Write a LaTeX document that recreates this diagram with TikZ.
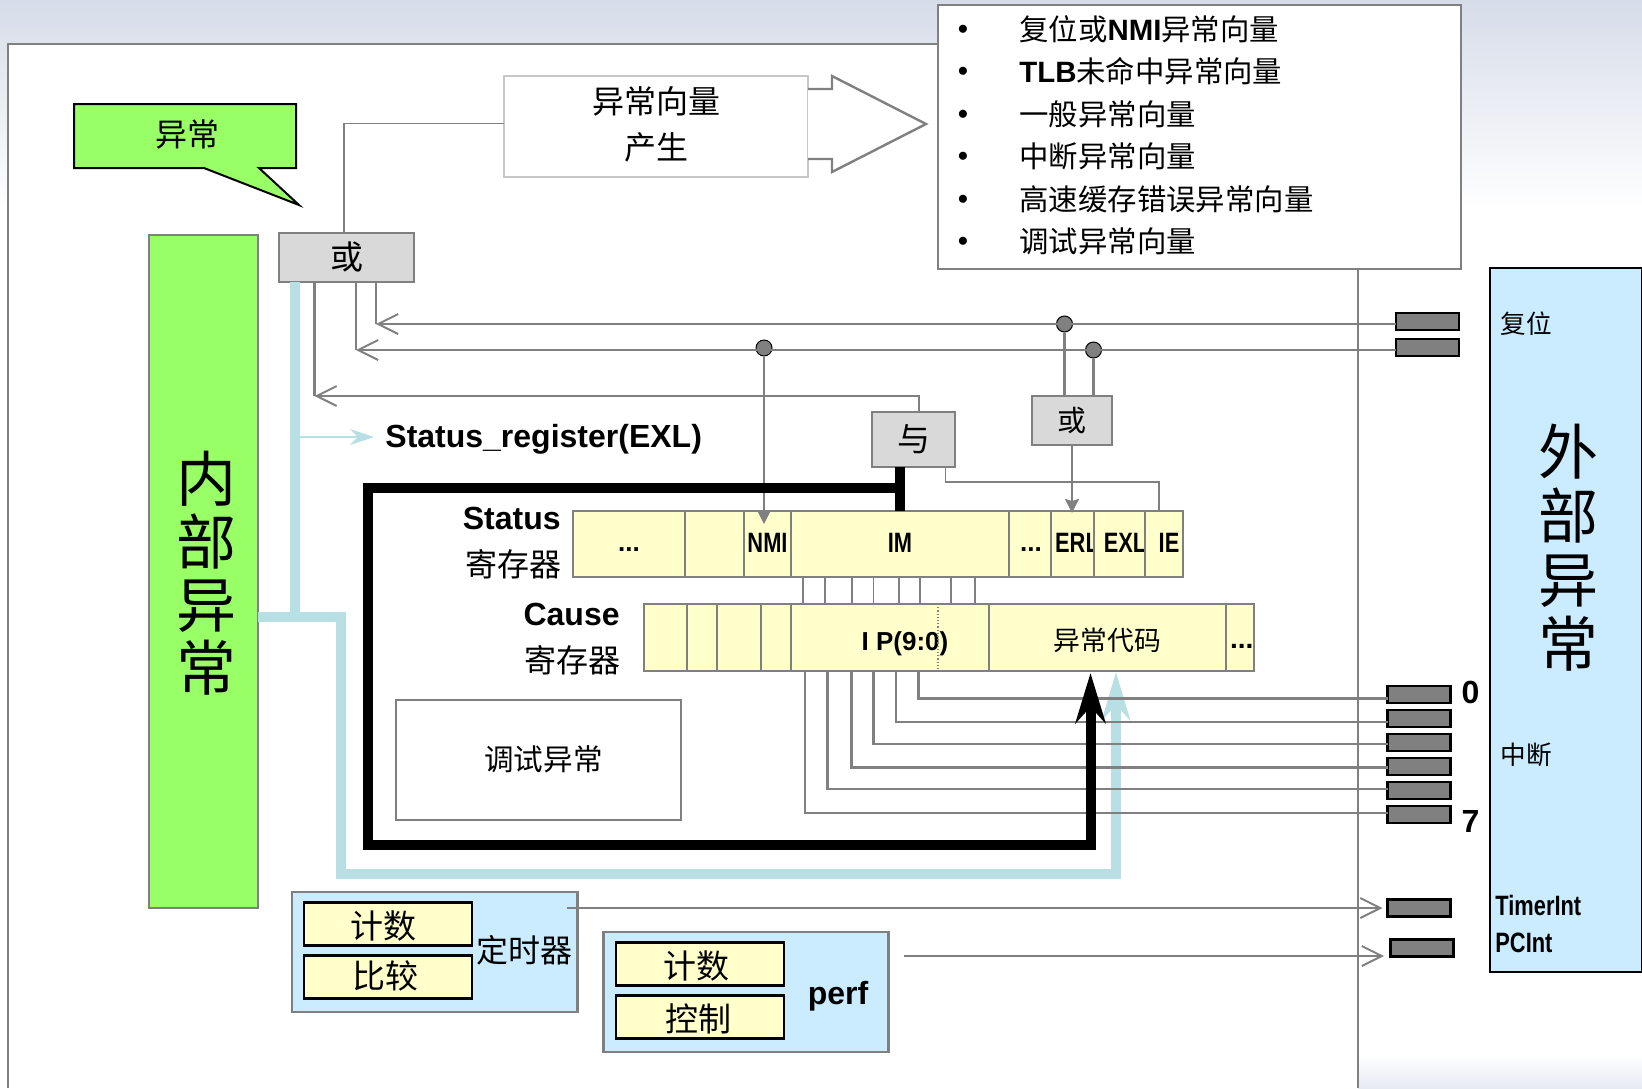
\documentclass[tikz,border=0pt]{standalone}
\usepackage{fontspec}
\setmainfont{Liberation Sans}
\newfontfamily\cjk{Noto Sans CJK SC}
\newfontfamily\narrowsf[FakeStretch=0.78]{Liberation Sans}
\usetikzlibrary{positioning,arrows.meta}
\definecolor{bgblue}{HTML}{D6DCE9}
\definecolor{wiregray}{HTML}{808080}
\definecolor{boxgray}{HTML}{D9D9D9}
\definecolor{lightgreen}{HTML}{99FF66}
\definecolor{regyellow}{HTML}{FFFFCC}
\definecolor{skyblue}{HTML}{CBEBFF}
\definecolor{paleteal}{HTML}{B8E0E4}
\newcommand{\cjksize}[1]{\cjk\fontsize{#1}{#1}\selectfont}
\newcommand{\boldsize}[1]{\bfseries\fontsize{#1}{#1}\selectfont}
\newcommand{\placed}[3]{\makebox[0pt]{\hspace*{#1}\raisebox{\dimexpr#2-.36em\relax}[0pt][0pt]{#3}}}
\newcommand{\regdots}[1]{\placed{#1}{1.5pt}{\rmfamily\boldsize{13}...}}
\tikzset{
  wire/.style={draw=wiregray,line width=1.2pt},
  thinwire/.style={draw=wiregray,line width=.6pt},
  openhead/.style={-{Straight Barb[length=10pt,width=10pt,line width=1pt]}},
  solidhead/.style={-{Stealth[length=7pt,width=7pt,inset=1pt]}},
  gate/.style={draw=wiregray,fill=boxgray,line width=1.2pt,inner sep=0pt,outer sep=0pt,font=\cjksize{16.5}},
  field/.style={draw=wiregray,fill=regyellow,line width=1pt,inner sep=0pt,outer sep=0pt,font=\narrowsf\boldsize{14}},
  socket/.style={draw=black,fill=wiregray,line width=1.1pt,inner sep=0pt,outer sep=0pt,minimum width=31.5pt,minimum height=8.5pt},
  joint/.style={circle,draw=black,fill=wiregray,line width=.5pt,inner sep=0pt,minimum size=8pt},
  cn/.style={inner sep=0pt,font=\cjksize{16}},
  smallcn/.style={inner sep=0pt,font=\cjksize{12.8}},
  latin/.style={inner sep=0pt,font=\boldsize{16}},
  narrowlatin/.style={inner sep=0pt,font=\narrowsf\boldsize{14}},
  panelbox/.style={draw=wiregray,fill=skyblue,line width=1.1pt,inner sep=0pt,outer sep=0pt},
  cellbox/.style={draw=black,fill=regyellow,line width=1.1pt,inner sep=0pt,outer sep=0pt,minimum width=84pt,minimum height=21.5pt,font=\cjksize{16.5}},
  blackbus/.style={draw=black,line width=5pt},
  tealbus/.style={draw=paleteal,line width=4.8pt}
}
\begin{document}
\begin{tikzpicture}[x=.5pt,y=-.5pt,node distance=0pt]
\useasboundingbox (0,0) rectangle (1642,1088);
\shade[top color=bgblue,bottom color=white] (0,0) rectangle (1642,210);
\shade[top color=white,bottom color=bgblue!60] (1358,1055) rectangle (1642,1088);
\draw[wire,line width=1.4pt,fill=white] (8,1088) -- (8,44) -- (1358,44) -- (1358,1088);

\coordinate (rstEnd) at (376,324);
\coordinate (nmiEnd) at (356,350);
\coordinate (andEnd) at (314.5,396);
\coordinate (trunkTop) at (294.5,282);
\coordinate (trunkFoot) at (294.5,617);
\coordinate (trunkTap) at (294.5,437);
\coordinate (tealA) at (341,617);
\coordinate (tealB) at (341,874);
\coordinate (tealC) at (1116,874);
\coordinate (tealTip) at (1116,672);
\coordinate (blackA) at (368,488);
\coordinate (blackB) at (368,845);
\coordinate (blackC) at (1090.5,845);
\coordinate (blackTip) at (1090.5,673);
\coordinate (timerOut) at (567,908);
\coordinate (perfOut) at (904,956);
\coordinate (perfIn) at (1384,956);

\node (inner) [panelbox,draw=wiregray,fill=lightgreen,minimum width=54.5pt,minimum height=336.5pt] at (203.5,571.5) {};
\node (innertxt) [inner sep=0pt,align=center,font=\cjk\fontsize{30}{31.5}\selectfont] at (206,573.5) {内\\部\\异\\常};
\draw[draw=black,fill=lightgreen,line width=1pt] (74,104) -- (296,104) -- (296,168) -- (259,168) -- (299,205) -- (204,168) -- (74,168) -- cycle;
\node (excn) [cn] at (187,134) {异常};

\node (gen) [draw=boxgray!80!gray,fill=white,line width=1pt,inner sep=0pt,outer sep=0pt,minimum width=152pt,minimum height=50.5pt] at (656,126.5) {};
\node (gentxt) [inner sep=0pt,align=center,font=\cjk\fontsize{16}{23}\selectfont] at (656,124.5) {异常向量\\产生};
\draw[wire,fill=white] (gen.east |- 0,89) -- (832,89) -- (832,76) -- (926,124) -- (832,172) -- (832,159) -- (gen.east |- 0,159);

\node (veclist) [draw=wiregray,fill=white,line width=1.2pt,inner sep=0pt,outer sep=0pt,minimum width=261.5pt,minimum height=132pt] at (1199.5,137) {};
\foreach \i/\y/\txt in {1/29/{复位或{\rmfamily\bfseries NMI}异常向量},2/71/{{\rmfamily\bfseries TLB}未命中异常向量},3/114/{一般异常向量},4/156/{中断异常向量},5/199/{高速缓存错误异常向量},6/241/{调试异常向量}}{
  \node (bul\i) [inner sep=0pt,yshift=-1.2pt,font=\boldsize{14}] at (963,\y) {•};
  \node (item\i) [anchor=west,inner sep=0pt,font=\cjksize{14.7}] at (1019,\y) {\txt};
}

\node (huo) [gate,minimum width=67.5pt,minimum height=24.5pt] at (346.75,257.5) {或};
\node (yu) [gate,minimum width=41.5pt,minimum height=27.5pt] at (913.5,439.5) {与};
\node (huoB) [gate,font=\cjksize{14.5},minimum width=40pt,minimum height=24.5pt] at (1072,420.5) {或};

\node (rstA) [socket] at (1427.5,321.5) {};
\node (rstB) [socket] at (1427.5,347.5) {};
\node (dotA) [joint] at (1064.5,324) {};
\node (dotB) [joint] at (1093.5,350) {};
\node (dotC) [joint] at (764,348) {};

\node (stA) [field,minimum width=56pt,minimum height=33pt] at (629,544) {\regdots{0pt}};
\node (stB) [field,minimum width=29.5pt,minimum height=33pt,right=of stA] {};
\node (stC) [field,minimum width=23.5pt,minimum height=33pt,right=of stB] {\placed{0pt}{.6pt}{NMI}};
\node (stD) [field,minimum width=109pt,minimum height=33pt,right=of stC] {\placed{0pt}{.6pt}{IM}};
\node (stE) [field,minimum width=21pt,minimum height=33pt,right=of stD] {\regdots{1pt}};
\node (stF) [field,minimum width=21.5pt,minimum height=33pt,right=of stE] {\placed{4.5pt}{.6pt}{ERL}};
\node (stG) [field,minimum width=25.5pt,minimum height=33pt,right=of stF] {\placed{5.5pt}{.6pt}{EXL}};
\node (stH) [field,minimum width=19pt,minimum height=33pt,right=of stG] {\placed{5pt}{.6pt}{IE}};
\node (stlab) [latin,anchor=east] at (561,518) {Status};
\node (stcn) [cn,anchor=east] at (561.5,564) {寄存器};

\node (caA) [field,minimum width=21.5pt,minimum height=33.5pt] at (665.5,637.5) {};
\node (caB) [field,minimum width=15pt,minimum height=33.5pt,right=of caA] {};
\node (caC) [field,minimum width=22pt,minimum height=33.5pt,right=of caB] {};
\node (caD) [field,minimum width=15pt,minimum height=33.5pt,right=of caC] {};
\node (caE) [field,font=\boldsize{13},minimum width=99pt,minimum height=33.5pt,right=of caD] {\placed{15pt}{-1.75pt}{I P(9:0)}};
\node (caF) [field,font=\cjksize{13.4},minimum width=118.25pt,minimum height=33.5pt,right=of caE] {\placed{0pt}{-1.6pt}{异常代码}};
\node (caG) [field,minimum width=14.25pt,minimum height=33.5pt,right=of caF] {\placed{2pt}{-.7pt}{\rmfamily\boldsize{14}...}};
\node (calab) [latin,anchor=east] at (620,614) {Cause};
\node (cacn) [cn,anchor=east] at (621,660) {寄存器};
\draw[thinwire,densely dotted] (938,0 |- caE.north) -- (938,0 |- caE.south);

\node (debug) [draw=wiregray,fill=white,line width=1pt,inner sep=0pt,outer sep=0pt,minimum width=142.5pt,minimum height=60pt,font=\cjksize{14.8}] at (538.5,760) {\placed{5pt}{0pt}{调试异常}};

\node (timer) [panelbox,minimum width=142.75pt,minimum height=60pt] at (434.75,952) {};
\node (tcount) [cellbox] at (388,924) {\placed{-5pt}{-1.3pt}{计数}};
\node (tcomp) [cellbox,below=5pt of tcount] {\placed{-3pt}{.4pt}{比较}};
\node (tname) [cn] at (524.5,950) {定时器};
\node (perf) [panelbox,minimum width=142.5pt,minimum height=60pt] at (746,992) {};
\node (pcount) [cellbox] at (700,964) {\placed{-4pt}{-1.3pt}{计数}};
\node (pctrl) [cellbox,below=5pt of pcount] {\placed{-2pt}{-1.5pt}{控制}};
\node (pname) [latin] at (838,996) {perf};

\node (outer) [draw=black,fill=skyblue,line width=.8pt,inner sep=0pt,outer sep=0pt,minimum width=76pt,minimum height=352pt] at (1566,620) {};
\node (outertxt) [inner sep=0pt,align=center,font=\cjk\fontsize{30}{32}\selectfont] at (1568,548) {外\\部\\异\\常};
\node (rstlab) [smallcn] at (1526,324) {复位};
\node (intlab) [smallcn] at (1526.5,755) {中断};
\node (tmlab) [narrowlatin,anchor=west] at (1495,905) {TimerInt};
\node (pclab) [narrowlatin,anchor=west] at (1495,943) {PCInt};

\foreach \i/\y in {0/694.5,1/718.5,2/742.5,3/766.5,4/790.5,5/814.5}
  \node (irq\i) [socket] at (1419,\y) {};
\node (tmsock) [socket] at (1419,908) {};
\node (pcsock) [socket] at (1422,948) {};
\node (zero) [latin] at (1470.5,692) {0};
\node (seven) [latin] at (1470.5,821) {7};

\draw[draw=paleteal,line width=5pt] (trunkTop) -- (trunkFoot);
\draw[tealbus] (inner.east |- trunkFoot) -- (tealA) -- (tealB) -- (tealC) -- (1116,700);
\draw[draw=paleteal,line width=1pt,-{Stealth[length=12pt,width=8pt]}] (trunkTap) -- (374,437);
\draw[draw=paleteal,line width=4.8pt,-{Stealth[length=24pt,width=14pt]}] (1116,720) -- (tealTip);
\node (reglab) [latin,anchor=west] at (385,439) {Status\_register(EXL)};

\draw[thinwire,line width=.8pt] ([yshift=1.5pt]gen.west) -| (344,0 |- huo.north);
\draw[wire,openhead] ([yshift=-1.25pt]rstA.west) -- (rstEnd);
\draw[wire,openhead] ([yshift=-1.25pt]rstB.west) -- (nmiEnd);
\draw[wire] (rstEnd |- huo.south) -- (rstEnd);
\draw[wire] (nmiEnd |- huo.south) -- (nmiEnd);
\draw[wire] (andEnd |- huo.south) -- (andEnd);
\draw[wire,openhead] ([xshift=2.75pt]yu.north) |- (andEnd);
\draw[wire,solidhead] (dotC.south) -- (764,524);
\draw[wire] (dotA.south) -- (dotA.south |- huoB.north);
\draw[wire] (dotB.south) -- (dotB.south |- huoB.north);
\draw[wire,solidhead] (huoB.south) -- (huoB.south |- 0,513);
\draw[thinwire,line width=.8pt] ([xshift=16pt]yu.south) |- (1159,482) -- (1159,0 |- stH.north);

\foreach \x in {803,825,852,873.5,899,920,951,975}
  \draw[thinwire] (\x,0 |- stD.south) -- (\x,0 |- caE.north);
\foreach \i/\x/\y in {0/918.5/698.5,1/896/722,2/873.5/744,3/851.5/767.5,4/827.5/789,5/805/813}
  \draw[wire] (\x,0 |- caE.south) |- (irq\i.west |- 0,\y);
\draw[wire,openhead] (timerOut) -- ([xshift=-2.5pt]tmsock.west);
\draw[wire,openhead] (perfOut) -- (perfIn);

\draw[blackbus] (stD.north) -- (stD.north |- yu.south);
\draw[blackbus] (stD.north |- blackA) -- (blackA) -- (blackB) -- (blackC) -- (1090.5,700);
\draw[draw=black,line width=5pt,-{Stealth[length=25pt,width=15pt]}] (1090.5,720) -- (blackTip);
\end{tikzpicture}
\end{document}
